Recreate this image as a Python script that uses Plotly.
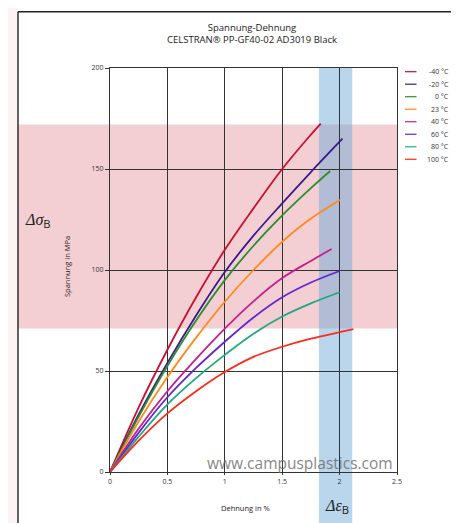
import plotly.graph_objects as go

# ---- data ----
temps = ["-40 °C", "-20 °C", "0 °C", "23 °C", "40 °C", "60 °C", "80 °C", "100 °C"]
colors = ["#c8102e", "#3a1a8a", "#2e8b2e", "#ff8a1a", "#c81e8c", "#6424d2", "#1fa882", "#ff2a1a"]

strain_m40 = [0, 0.25, 0.5, 0.75, 1.0, 1.25, 1.5, 1.75, 1.836]
stress_m40 = [0, 32, 60.5, 86.5, 110, 130.5, 150, 167, 172.5]

strain_m20 = [0, 0.25, 0.5, 0.75, 1.0, 1.25, 1.5, 1.75, 2.025]
stress_m20 = [0, 28.5, 54, 77.5, 99, 117, 133, 148.5, 165]

strain_0 = [0, 0.25, 0.5, 0.75, 1.0, 1.25, 1.5, 1.75, 1.918]
stress_0 = [0, 27.5, 52.5, 75, 95, 112, 127, 140.5, 149]

strain_23 = [0, 0.25, 0.5, 0.75, 1.0, 1.25, 1.5, 1.75, 2.005]
stress_23 = [0, 25, 47, 66.5, 84.3, 100, 114, 125.5, 134.7]

strain_40 = [0, 0.25, 0.5, 0.75, 1.0, 1.25, 1.5, 1.75, 1.93]
stress_40 = [0, 21.5, 40, 56, 71, 84.5, 96, 104.5, 110.4]

strain_60 = [0, 0.25, 0.5, 0.75, 1.0, 1.25, 1.5, 1.75, 2.0]
stress_60 = [0, 19.5, 37, 51.5, 64.5, 76.5, 86.5, 93.8, 99.5]

strain_80 = [0, 0.25, 0.5, 0.75, 1.0, 1.25, 1.5, 1.75, 2.0]
stress_80 = [0, 17.5, 33.5, 46.5, 58, 68.5, 77, 83.5, 89]

strain_100 = [0, 0.25, 0.5, 0.75, 1.0, 1.25, 1.5, 1.75, 2.0, 2.12]
stress_100 = [0, 15.5, 29, 40, 49.5, 57, 62, 66, 69.2, 70.7]

strains = [strain_m40, strain_m20, strain_0, strain_23, strain_40, strain_60, strain_80, strain_100]
stresses = [stress_m40, stress_m20, stress_0, stress_23, stress_40, stress_60, stress_80, stress_100]

x_ticks = [0, 0.5, 1, 1.5, 2, 2.5]
x_ticklabels = ["0", "0.5", "1", "1.5", "2", "2.5"]
y_ticks = [0, 50, 100, 150, 200]

sigma_band = [71, 172]      # stress band (MPa)
eps_band = [1.82, 2.11]     # strain band (%)

title_lines = ["Spannung-Dehnung", "CELSTRAN® PP-GF40-02 AD3019 Black"]
x_title = "Dehnung in %"
y_title = "Spannung in MPa"
watermark = "www.campusplastics.com"

# ---- figure (page body has an 8px margin) ----
OFF = 8
W, H = 459 - OFF, 523 - OFF
L, T = 110 - OFF, 68 - OFF
pw, ph = 287, 404
R = W - L - pw
B = H - T - ph


def px(x):
    return (x - OFF - L) / pw


def py(y):
    return (T + ph - (y - OFF)) / ph


fig = go.Figure()
for name, c, xs, ys in zip(temps, colors, strains, stresses):
    fig.add_trace(go.Scatter(x=xs, y=ys, mode="lines", name=name,
                             line=dict(color=c, width=1.8, shape="spline", smoothing=1.0),
                             showlegend=False))

shapes = []
# faint page tint left of the frame
shapes.append(dict(type="rect", xref="paper", yref="paper", x0=px(0), x1=px(18), y0=py(H + 20), y1=py(-5),
                   fillcolor="#fdf2f4", line=dict(width=0), layer="below"))
# pink stress band
shapes.append(dict(type="rect", xref="paper", yref="y", x0=px(18), x1=1.0, y0=sigma_band[0], y1=sigma_band[1],
                   fillcolor="rgba(226,140,150,0.42)", line=dict(width=0), layer="below"))
# blue strain band
shapes.append(dict(type="rect", xref="x", yref="paper", x0=eps_band[0], x1=eps_band[1], y0=py(540), y1=1.0,
                   fillcolor="rgba(100,165,215,0.45)", line=dict(width=0), layer="below"))
# frame
shapes.append(dict(type="line", xref="paper", yref="paper", x0=px(18), x1=px(18), y0=py(11.7), y1=py(545),
                   line=dict(color="#222", width=1.4)))
shapes.append(dict(type="line", xref="paper", yref="paper", x0=px(457), x1=px(457), y0=py(11.7), y1=py(545),
                   line=dict(color="#222", width=1.4)))
shapes.append(dict(type="line", xref="paper", yref="paper", x0=px(18), x1=px(457), y0=py(11.7), y1=py(11.7),
                   line=dict(color="#222", width=1.4)))

annotations = []
# compact legend
for i, (name, c) in enumerate(zip(temps, colors)):
    yy = 71.7 + 12.51 * i
    shapes.append(dict(type="line", xref="paper", yref="paper", x0=px(405), x1=px(416.5), y0=py(yy), y1=py(yy),
                       line=dict(color=c, width=1.2)))
    annotations.append(dict(xref="paper", yref="paper", x=px(451), y=py(yy), text=name, showarrow=False,
                            xanchor="right", yanchor="middle",
                            font=dict(family="Open Sans", size=7, color="#333")))

annotations.append(dict(xref="paper", yref="paper", x=px(252), y=py(33.5), text="<br>".join(title_lines),
                        showarrow=False, xanchor="center", yanchor="middle",
                        font=dict(family="Open Sans", size=9.5, color="#222")))
annotations.append(dict(xref="paper", yref="paper", x=px(245), y=py(508), text=x_title, showarrow=False,
                        xanchor="center", yanchor="middle", font=dict(family="Open Sans", size=7.5, color="#222")))
annotations.append(dict(xref="paper", yref="paper", x=px(67), y=py(267), text=y_title, showarrow=False,
                        textangle=-90, xanchor="center", yanchor="middle",
                        font=dict(family="Open Sans", size=7.5, color="#222")))
annotations.append(dict(xref="paper", yref="paper", x=px(38), y=py(221),
                        text="<i>Δσ</i><sub><span style='font-family:Open Sans'>B</span></sub>",
                        showarrow=False, xanchor="center", yanchor="middle",
                        font=dict(family="Liberation Serif", size=16, color="#222")))
annotations.append(dict(xref="paper", yref="paper", x=px(337), y=py(507),
                        text="<i>Δε</i><sub><span style='font-family:Open Sans'>B</span></sub>",
                        showarrow=False, xanchor="center", yanchor="middle",
                        font=dict(family="Liberation Serif", size=16, color="#222")))
annotations.append(dict(xref="paper", yref="paper", x=px(300), y=py(462.5), text=watermark, showarrow=False,
                        xanchor="center", yanchor="middle",
                        font=dict(family="Open Sans", size=15.5, color="rgba(110,110,110,0.85)")))

fig.update_layout(
    width=W, height=H,
    margin=dict(l=L, r=R, t=T, b=B, pad=0),
    paper_bgcolor="white", plot_bgcolor="rgba(0,0,0,0)",
    shapes=shapes, annotations=annotations, showlegend=False,
    xaxis=dict(range=[0, 2.5], tickvals=x_ticks, ticktext=x_ticklabels, showgrid=True,
               gridcolor="#333", gridwidth=1.2, showline=True, mirror=True, linecolor="#333", linewidth=1.2,
               zeroline=False, ticks="outside", ticklen=2, tickcolor="#333",
               tickfont=dict(family="Open Sans", size=7, color="#333")),
    yaxis=dict(range=[0, 200], tickvals=y_ticks, showgrid=True,
               gridcolor="#333", gridwidth=1.2, showline=True, mirror=True, linecolor="#333", linewidth=1.2,
               zeroline=False, ticks="outside", ticklen=4, tickcolor="#333",
               tickfont=dict(family="Open Sans", size=7, color="#333")),
)

fig.write_html("out.html")
